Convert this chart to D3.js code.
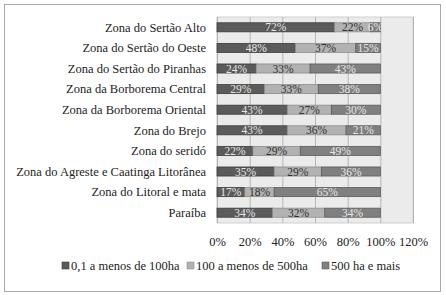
<!DOCTYPE html>
<html>
<head>
<meta charset="utf-8">
<script src="https://cdn.jsdelivr.net/npm/d3@7"></script>
<style>
  body { margin: 0; background: #fff; }
  text { font-family: "Liberation Serif", "DejaVu Serif", serif; }
</style>
</head>
<body>
<script>
const width = 446;
const height = 295;

// data
const zonas = [
  'Zona do Sertão Alto',
  'Zona do Sertão do Oeste',
  'Zona do Sertão do Piranhas',
  'Zona da Borborema Central',
  'Zona da Borborema Oriental',
  'Zona do Brejo',
  'Zona do seridó',
  'Zona do Agreste e Caatinga Litorânea',
  'Zona do Litoral e mata',
  'Paraíba',
];
const series = ['0,1 a menos de 100ha', '100 a menos de 500ha', '500 ha e mais'];
const ate100 = [72, 48, 24, 29, 43, 43, 22, 35, 17, 34];
const de100a500 = [22, 37, 33, 33, 27, 36, 29, 29, 18, 32];
const acima500 = [6, 15, 43, 38, 30, 21, 49, 36, 65, 34];
const ticks = [0, 20, 40, 60, 80, 100, 120];

const colors = ['#5b5b5b', '#b2b2b2', '#808080'];
const strokes = ['#3c3c3c', '#8c8c8c', '#5a5a5a'];
const labelColors = ['#e6e6e6', '#303030', '#e6e6e6'];

const plot = { x: 217, y: 17, width: 196, height: 206 };

const svg = d3.select('body').append('svg')
  .attr('width', width)
  .attr('height', height);

// outer border
svg.append('rect')
  .attr('x', 4.5).attr('y', 4.5)
  .attr('width', 436).attr('height', 287)
  .attr('fill', '#fff')
  .attr('stroke', '#aaa');

const x = d3.scaleLinear().domain([0, 120]).range([plot.x, plot.x + plot.width]);
const y = d3.scaleBand().domain(zonas).range([plot.y, plot.y + plot.height]).paddingInner(0.56).paddingOuter(0.28);

// plot background
svg.append('rect')
  .attr('x', plot.x).attr('y', plot.y)
  .attr('width', plot.width).attr('height', plot.height)
  .attr('fill', '#ebebeb')
  .attr('stroke', '#cfcfcf');

// grid
svg.append('g')
  .attr('transform', `translate(0, ${plot.y + plot.height})`)
  .call(d3.axisBottom(x).tickValues(ticks).tickFormat('').tickSize(-plot.height).tickSizeOuter(0))
  .call(g => g.select('.domain').remove())
  .call(g => g.selectAll('line').attr('stroke', '#a8a8a8').attr('stroke-width', 0.8));

// tick labels
svg.append('g')
  .attr('transform', `translate(0, ${plot.y + plot.height + 11})`)
  .call(d3.axisBottom(x).tickValues(ticks).tickFormat(d => d + '%').tickSize(0))
  .call(g => g.select('.domain').remove())
  .call(g => g.selectAll('text').attr('font-size', 12.5).attr('fill', '#222').attr('font-family', '"Liberation Serif", serif'));

// category labels
svg.append('g')
  .selectAll('text')
  .data(zonas)
  .join('text')
  .attr('x', plot.x - 11)
  .attr('y', d => y(d) + y.bandwidth() / 2)
  .attr('dy', '0.35em')
  .attr('text-anchor', 'end')
  .attr('font-size', 12.5)
  .attr('fill', '#222')
  .text(d => d);

// stacked bars
const rows = zonas.map((z, i) => ({ zona: z, vals: [ate100[i], de100a500[i], acima500[i]] }));
const segs = [];
rows.forEach(r => {
  let acc = 0;
  r.vals.forEach((v, k) => {
    segs.push({ zona: r.zona, k, v, x0: acc, x1: acc + v });
    acc += v;
  });
});

const bars = svg.append('g');
bars.selectAll('rect')
  .data(segs)
  .join('rect')
  .attr('x', d => x(d.x0))
  .attr('y', d => y(d.zona))
  .attr('width', d => x(d.x1) - x(d.x0))
  .attr('height', y.bandwidth())
  .attr('fill', d => colors[d.k])
  .attr('stroke', d => strokes[d.k])
  .attr('stroke-width', 0.8);

bars.selectAll('text')
  .data(segs)
  .join('text')
  .attr('x', d => (x(d.x0) + x(d.x1)) / 2)
  .attr('y', d => y(d.zona) + y.bandwidth() / 2)
  .attr('dy', '0.36em')
  .attr('text-anchor', 'middle')
  .attr('font-size', 11.5)
  .attr('fill', d => labelColors[d.k])
  .text(d => d.v + '%');

// legend
const legend = svg.append('g').attr('transform', 'translate(62, 266)');
const legendX = [0, 125, 260];
series.forEach((s, i) => {
  const g = legend.append('g').attr('transform', `translate(${legendX[i]}, 0)`);
  g.append('rect')
    .attr('x', 0).attr('y', -4)
    .attr('width', 7).attr('height', 7)
    .attr('fill', colors[i])
    .attr('stroke', strokes[i])
    .attr('stroke-width', 0.6);
  g.append('text')
    .attr('x', 9)
    .attr('dy', '0.35em')
    .attr('font-size', 12.5)
    .attr('fill', '#222')
    .text(s);
});
</script>
</body>
</html>
